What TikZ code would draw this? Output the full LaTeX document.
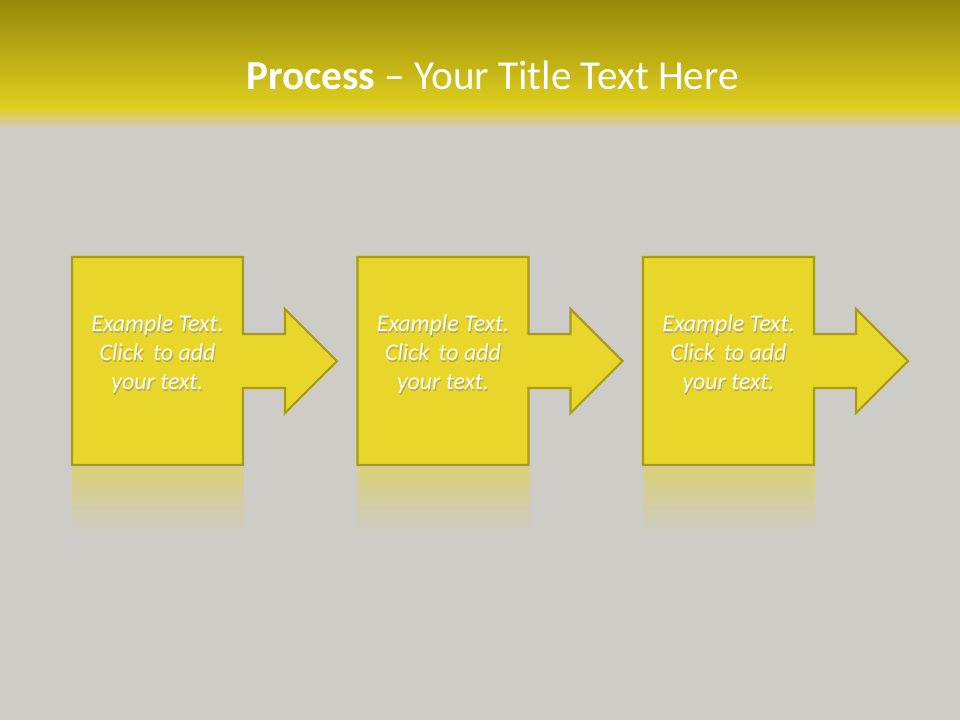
\documentclass[tikz,border=0pt]{standalone}
\usepackage{fontspec}
\setmainfont{Carlito}
\usepackage{tikz}
\usetikzlibrary{positioning,fadings}
\definecolor{bgGray}{HTML}{CECCC6}
\definecolor{bandTop}{HTML}{948909}
\definecolor{bandLow}{HTML}{E0CF1E}
\definecolor{boxFill}{HTML}{E8D62A}
\definecolor{boxLine}{HTML}{A99B12}
\definecolor{txtCream}{HTML}{FFFDEC}
\tikzset{
px/.style={x=0.02646cm,y=-0.02646cm},
stepshape/.style={fill=boxFill,draw=boxLine,line width=1.6pt,line join=miter},
mirror/.style={fill=boxFill,opacity=0.5,path fading=south},
steptext/.style={font=\fontsize{18}{21.8}\selectfont\itshape,text=txtCream,align=center,inner sep=0pt},
stepshade/.style={font=\fontsize{18}{21.8}\selectfont\itshape,text=black!50,opacity=0.5,align=center,inner sep=0pt},
titletext/.style={font=\fontsize{31}{36}\selectfont,text=white,inner sep=0pt}
}
% one step of the process: box with its arrow, plus a faint mirror below
\newcommand{\procstep}[2]{%
\begin{scope}[xshift=#1*0.02646cm]
\fill[mirror] (72,467) rectangle (244,532);
\draw[stepshape] (72,257) -- (243,257) -- (243,334) -- (285,334) -- (285,309)
  -- (337,361) -- (285,413) -- (285,388) -- (243,388) -- (243,465) -- (72,465) -- cycle;
\node[stepshade] at (158.5,356.5) {Example Text.\\Click\, to add\\your text.};
\node[steptext] (#2) at (157.5,354) {Example Text.\\Click\, to add\\your text.};
\end{scope}}

\begin{document}
\begin{tikzpicture}[px]
\useasboundingbox (0,0) rectangle (960,720);
\fill[bgGray] (0,0) rectangle (960,720);
% title band
\shade[top color=bandTop,bottom color=bandLow] (0,0) rectangle (960,108);
\shade[top color=bandLow,bottom color=bgGray] (0,107.5) rectangle (960,128);
\node[titletext] (title) at (492.5,75) {\textbf{Process} -- Your Title Text Here};
% the three steps
\procstep{0}{stepA}
\procstep{285.5}{stepB}
\procstep{571}{stepC}
\end{tikzpicture}
\end{document}
